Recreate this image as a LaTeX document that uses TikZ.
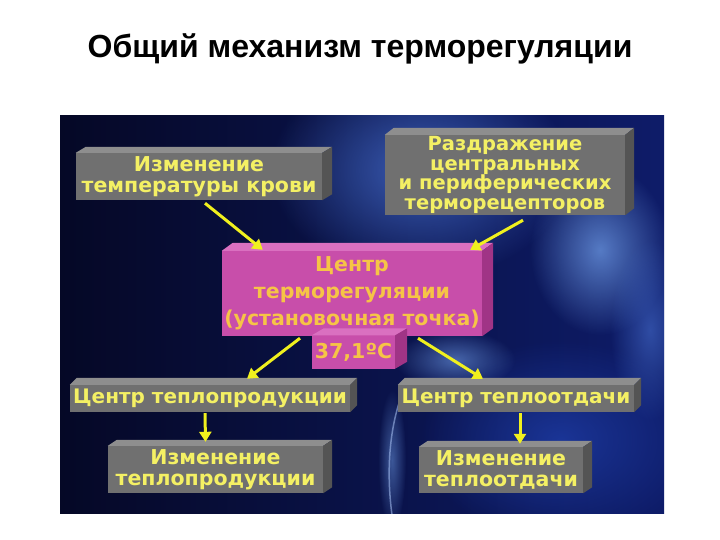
\documentclass[tikz,border=0pt]{standalone}
\usepackage{fontspec}
\setmainfont{Liberation Sans}
\newfontfamily\boxfont{DejaVu Sans}
\usetikzlibrary{arrows.meta,fadings,calc}
\definecolor{pagewhite}{RGB}{255,255,255}
\definecolor{navyL}{RGB}{5,8,38}
\definecolor{navyR}{RGB}{14,28,105}
\definecolor{glowA}{RGB}{70,110,205}
\definecolor{glowB}{RGB}{110,155,230}
\definecolor{glowC}{RGB}{30,60,165}
\definecolor{streak}{RGB}{170,195,245}
\definecolor{gfront}{RGB}{112,112,112}
\definecolor{gtop}{RGB}{142,142,142}
\definecolor{gside}{RGB}{84,84,84}
\definecolor{pfront}{RGB}{200,78,170}
\definecolor{ptop}{RGB}{218,112,192}
\definecolor{pside}{RGB}{160,52,134}
\definecolor{ytext}{RGB}{244,240,100}
\definecolor{otext}{RGB}{246,196,70}
\definecolor{arrowyellow}{RGB}{240,240,30}
\tikzfading[name=glowfade, inner color=transparent!0, outer color=transparent!100]
\newcommand\extrude[4]{%
  \fill[#4top] (#1.north west) -- ([shift={(#2,#3)}]#1.north west)
     -- ([shift={(#2,#3)}]#1.north east) -- (#1.north east) -- cycle;
  \fill[#4side] (#1.north east) -- ([shift={(#2,#3)}]#1.north east)
     -- ([shift={(#2,#3)}]#1.south east) -- (#1.south east) -- cycle;
}
\tikzset{
  titletext/.style={font=\bfseries\fontsize{32}{38}\selectfont, text=black, inner sep=0},
  gbox/.style={fill=gfront, text=ytext, inner sep=0, align=center,
     font=\boxfont\bfseries\fontsize{20.5}{20.5}\selectfont},
  pbox/.style={fill=pfront, text=otext, inner sep=0, align=center,
     font=\boxfont\bfseries\fontsize{20.5}{27}\selectfont},
  arr/.style={draw=arrowyellow, line width=3pt,
     -{Triangle[length=10pt,width=12pt]}},
  glow/.style={path fading=glowfade, fill opacity=#1},
}
\begin{document}
\begin{tikzpicture}[x=1pt,y=-1pt]
\useasboundingbox (0,0) rectangle (720,540);
\fill[pagewhite] (0,0) rectangle (720,540);
\node[titletext] (title) at (360,49) {Общий механизм терморегуляции};

% background panel
\begin{scope}
\clip (60,116) rectangle (664,513);
\shade[left color=navyL, right color=navyR] (60,116) rectangle (664,513);
\fill[glowA, glow=0.8] (420,170) ellipse (150 and 110);
\fill[glowB, glow=0.75] (600,250) ellipse (70 and 85);
\fill[glowC, glow=0.8] (560,440) ellipse (140 and 100);
\fill[glowB, glow=0.6] (455,360) ellipse (60 and 30);
\fill[glowA, glow=0.6] (650,330) ellipse (40 and 90);
\fill[glowB, glow=0.5] (392,460) ellipse (14 and 70);
\draw[streak, line width=1.5pt, opacity=0.55] (392,515) .. controls (386,470) and (390,430) .. (400,400);
\end{scope}

% front faces
\node[gbox, minimum width=246, minimum height=47] (b1) at (199,176.5)
  {Изменение\\температуры крови};
\node[gbox, minimum width=240, minimum height=80,
  font=\boxfont\bfseries\fontsize{19.5}{19.5}\selectfont] (b2) at (505,175)
  {Раздражение\\центральных\\и периферических\\терморецепторов};
\node[pbox, minimum width=260, minimum height=85] (c) at (352,293.5)
  {Центр\\терморегуляции\\(установочная точка)};
\node[pbox, minimum width=83, minimum height=33] (t) at (353.5,352)
  {37,1ºC};
\node[gbox, minimum width=280, minimum height=27,
  font=\boxfont\bfseries\fontsize{20}{20}\selectfont] (m1) at (210,398.5)
  {Центр теплопродукции};
\node[gbox, minimum width=236, minimum height=27,
  font=\boxfont\bfseries\fontsize{20}{20}\selectfont] (m2) at (516,398.5)
  {Центр теплоотдачи};
\node[gbox, minimum width=215, minimum height=47] (l1) at (215.5,469.5)
  {Изменение\\теплопродукции};
\node[gbox, minimum width=164, minimum height=46] (l2) at (501,470)
  {Изменение\\теплоотдачи};

% depth faces
\extrude{b1}{10}{-6}{g}
\extrude{b2}{9}{-7}{g}
\extrude{c}{11}{-8}{p}
\extrude{t}{12}{-7}{p}
\extrude{m1}{7}{-7}{g}
\extrude{m2}{7}{-7}{g}
\extrude{l1}{9}{-6}{g}
\extrude{l2}{9}{-6}{g}

% arrows
\draw[arr] ([shift={(6,3)}]b1.south) -- ([shift={(41,-1)}]c.north west);
\draw[arr] ([shift={(18,5)}]b2.south) -- ([shift={(-12,-1)}]c.north east);
\draw[arr] ([shift={(-52,2)}]c.south) -- ([shift={(37,-6)}]m1.north);
\draw[arr] ([shift={(66,2)}]c.south) -- ([shift={(-33,-6)}]m2.north);
\draw[arr] ([shift={(-5,1)}]m1.south) -- ([shift={(-10,-4)}]l1.north);
\draw[arr] ([shift={(4,1)}]m2.south) -- ([shift={(19,-3)}]l2.north);
\end{tikzpicture}
\end{document}
